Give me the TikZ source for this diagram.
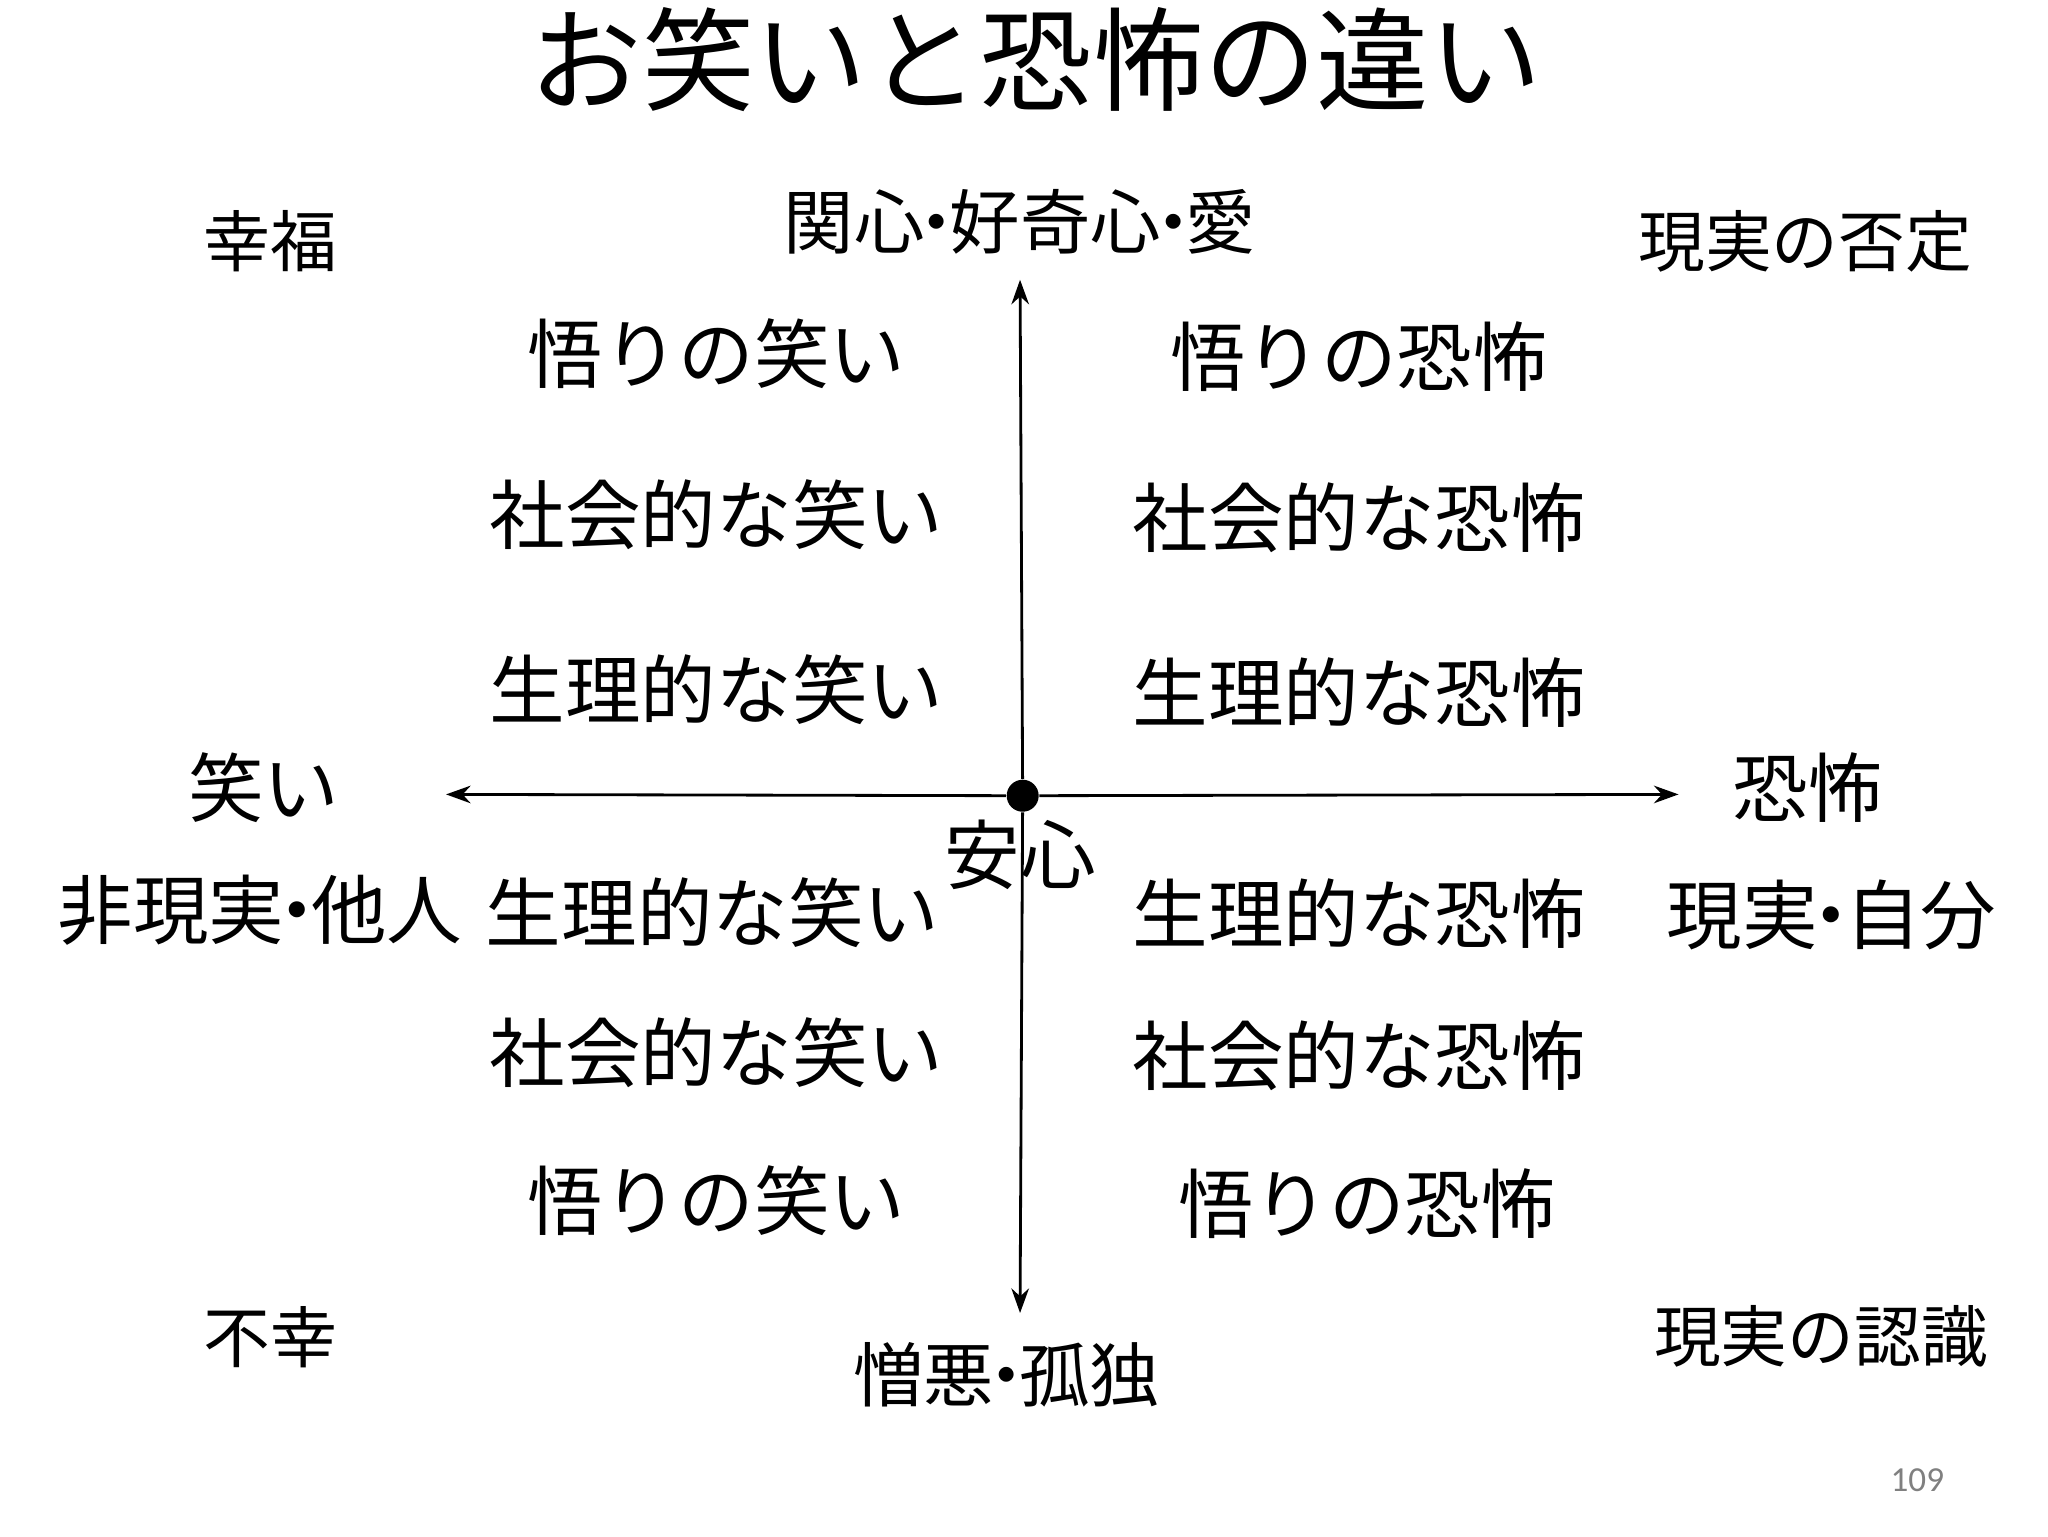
\documentclass[tikz,border=0pt]{standalone}
\usepackage{fontspec}
\setmainfont{Noto Sans CJK JP}
\newfontfamily\numfont{Carlito}
\usetikzlibrary{arrows.meta}
\newcommand{\dt}{\kern-0.32em・\kern-0.32em}
\tikzset{
  lab/.style={inner sep=0pt, font=\fontsize{21.5pt}{24pt}\selectfont},
  corner/.style={inner sep=0pt, font=\fontsize{19pt}{21pt}\selectfont},
  axis/.style={line width=0.8pt, -{Stealth[length=7pt,width=5pt]}}
}
\begin{document}
\begin{tikzpicture}[x=0.0132cm,y=-0.0132cm]
\useasboundingbox (0,0) rectangle (1552,1164);
\node[inner sep=0pt, font=\fontsize{32pt}{36pt}\selectfont] (title) at (785,45) {お笑いと恐怖の違い};
\node[lab, font=\fontsize{20pt}{22pt}\selectfont] (top) at (773,168) {関心\dt 好奇心\dt 愛};
\node[lab, font=\fontsize{20pt}{22pt}\selectfont] (bot) at (763,1042) {憎悪\dt 孤独};
\node[corner] (c1) at (205,183) {幸福};
\node[corner] (c2) at (1368,183) {現実の否定};
\node[corner] (c3) at (205,1013) {不幸};
\node[corner] (c4) at (1380,1013) {現実の認識};
\coordinate (ct) at (773,212);
\coordinate (cb) at (773,995);
\coordinate (cl) at (338,602);
\coordinate (cr) at (1272,602);
\node[circle, fill=black, inner sep=0pt, minimum size=0.32cm] (o) at (775,603) {};
\draw[axis] (o) -- (ct);
\draw[axis] (o) -- (cb);
\draw[axis] (o) -- (cl);
\draw[axis] (o) -- (cr);
\node[lab] (a1) at (543,268) {悟りの笑い};
\node[lab] (a2) at (543,390) {社会的な笑い};
\node[lab] (a3) at (543,523) {生理的な笑い};
\node[lab] (b1) at (1030,270) {悟りの恐怖};
\node[lab] (b2) at (1030,392) {社会的な恐怖};
\node[lab] (b3) at (1030,525) {生理的な恐怖};
\node[lab] (w) at (200,597) {笑い};
\node[lab] (f) at (1370,597) {恐怖};
\node[lab] (an) at (773,648) {安心};
\node[lab] (l1) at (197,690) {非現実\dt 他人};
\node[lab] (a4) at (540,692) {生理的な笑い};
\node[lab] (b4) at (1030,692) {生理的な恐怖};
\node[lab] (r1) at (1388,693) {現実\dt 自分};
\node[lab] (a5) at (543,798) {社会的な笑い};
\node[lab] (b5) at (1030,800) {社会的な恐怖};
\node[lab] (a6) at (543,910) {悟りの笑い};
\node[lab] (b6) at (1036,912) {悟りの恐怖};
\node[inner sep=0pt, text=gray, font=\numfont\fontsize{10pt}{12pt}\selectfont] (pg) at (1453,1122) {109};
\end{tikzpicture}
\end{document}
